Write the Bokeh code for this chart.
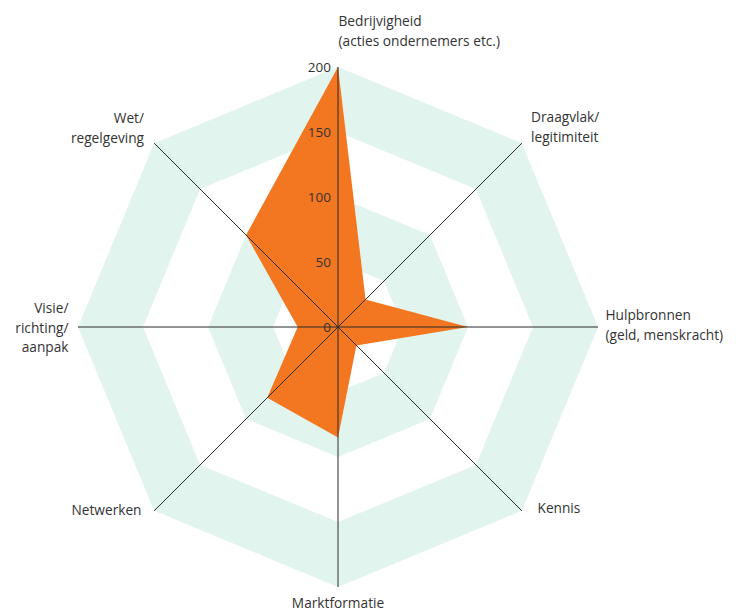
import numpy as np
from bokeh.plotting import figure
from bokeh.models import Range1d
from bokeh.core.properties import value
from bokeh.embed import file_html
from bokeh.resources import INLINE

# ---- data ----
categories = ["Bedrijvigheid\n(acties ondernemers etc.)", "Draagvlak/\nlegitimiteit",
              "Hulpbronnen\n(geld, menskracht)", "Kennis", "Marktformatie",
              "Netwerken", "Visie/\nrichting/\naanpak", "Wet/\nregelgeving"]
scores = [200, 30, 100, 20, 85, 77, 31, 100]
tick_values = [0, 50, 100, 150, 200]
tick_labels = ["0", "50", "100", "150", "200"]
band_edges = [(150, 200), (50, 100)]
r_max = 200

# ---- layout helpers ----
W, H = 739, 611
OX, OY = 0, 0           # page pixel of figure's top-left
CX, CY = 337.5, 326.5   # page pixel of centre
S = 1.3                 # px per unit

def px(x, y):
    return (x - CX) / S, (CY - y) / S

p = figure(width=W, height=H, output_backend="svg", toolbar_location=None,
           x_range=Range1d((OX - CX) / S, (OX + W - CX) / S),
           y_range=Range1d((CY - OY - H) / S, (CY - OY) / S),
           min_border=0, outline_line_color=None, background_fill_color="white")
p.axis.visible = False
p.grid.visible = False

n = len(categories)
angles = np.pi / 2 - np.arange(n) * 2 * np.pi / n
ca, sa = np.cos(angles), np.sin(angles)

GREEN = "#e2f4ee"
for lo, hi in band_edges:
    p.patch(list(hi * ca), list(hi * sa), fill_color=GREEN, line_color=None)
    p.patch(list(lo * ca), list(lo * sa), fill_color="white", line_color=None)

vals = np.array(scores, dtype=float)
p.patch(list(vals * ca), list(vals * sa), fill_color="#f37721", line_color=None)

# spokes
p.segment(x0=[0] * n, y0=[0] * n, x1=list(r_max * ca), y1=list(r_max * sa),
          line_color="#2b2b2b", line_width=1)

FONT = value("Open Sans")
TXT = "#333333"

# tick labels along top spoke
p.text(x=[-7 / S] * len(tick_values), y=tick_values, text=tick_labels,
       text_font=FONT, text_font_size="13.5px", text_color=TXT,
       text_align="right", text_baseline="alphabetic")

# category labels: (page x, page y of first line centre, align)
label_pos = [
    (338, 20, "left"),
    (530.5, 116, "left"),
    (605, 314, "left"),
    (537, 507, "left"),
    (337.5, 601.5, "center"),
    (141, 509, "right"),
    (68, 307, "right"),
    (143.5, 117, "right"),
]
LH = 19.5
xs, ys, ts, aligns = [], [], [], []
for cat, (lx, ly, al) in zip(categories, label_pos):
    for i, line in enumerate(cat.split("\n")):
        x, y = px(lx, ly + i * LH)
        xs.append(x); ys.append(y); ts.append(line); aligns.append(al)
for al in ("left", "center", "right"):
    idx = [i for i, a in enumerate(aligns) if a == al]
    if idx:
        p.text(x=[xs[i] for i in idx], y=[ys[i] for i in idx], text=[ts[i] for i in idx],
               text_font=FONT, text_font_size="13.7px", text_color=TXT,
               text_align=al, text_baseline="middle")

open("out.html", "w").write(file_html(p, INLINE))
